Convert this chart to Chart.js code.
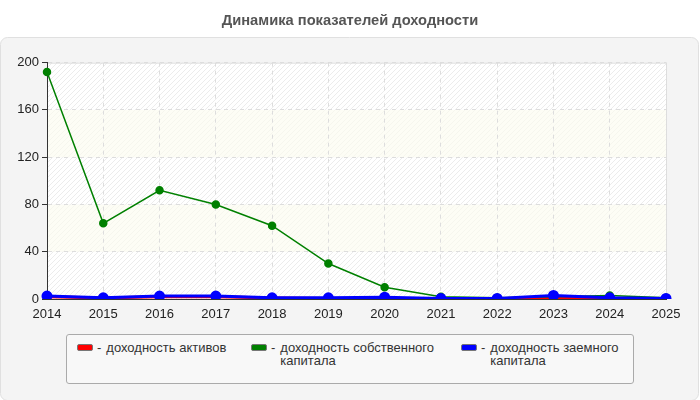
<!DOCTYPE html>
<html>
<head>
<meta charset="utf-8">
<script src="https://cdn.jsdelivr.net/npm/chart.js@4/dist/chart.umd.min.js"></script>
<style>
  html, body { margin: 0; padding: 0; background: #fff; }
  #wrap { position: relative; width: 700px; height: 400px; }
  #legend {
    position: absolute; left: 66px; top: 334px; width: 566px; height: 48px;
    background: #f8f8f8; border: 1px solid #aaa; border-radius: 3px;
    font-family: "Liberation Sans", Arial, sans-serif; font-size: 13px; color: #333;
  }
  .item { position: absolute; top: 6px; display: flex; align-items: flex-start; line-height: 13px; }
  .sw { width: 14px; height: 5px; border: 1px solid #777; border-radius: 2px; margin-top: 3px; margin-right: 4px; }
  .dash { margin-right: 5px; }
</style>
</head>
<body>
<div id="wrap">
  <canvas id="c" width="700" height="400"></canvas>
  <div id="legend"></div>
</div>
<script>
// data
const years = ["2014", "2015", "2016", "2017", "2018", "2019", "2020", "2021", "2022", "2023", "2024", "2025"];
const roaValues = [2, 0.8, 2, 2, 0.8, 0.5, 0.5, 0, 0.3, 1.5, 0.5, 0];
const roeValues = [192, 64, 92, 80, 62, 30, 10, 2, 1, 2, 3, 1];
const rodValues = [2.5, 1, 2.5, 2.5, 1, 1, 1.5, 0.5, 0.5, 3, 1, 0.5];
const yTicks = [0, 40, 80, 120, 160, 200];

const seriesNames = ["доходность активов", "доходность собственного капитала", "доходность заемного капитала"];
const seriesColors = ["#ff0000", "#008000", "#0000ff"];

const FONT = '"Liberation Sans", Arial, sans-serif';

// hatch pattern for the striped bands
function makeHatch(bg, line) {
  const p = document.createElement("canvas");
  p.width = 5; p.height = 5;
  const g = p.getContext("2d");
  g.fillStyle = bg;
  g.fillRect(0, 0, 5, 5);
  g.strokeStyle = line;
  g.lineWidth = 1;
  g.beginPath();
  g.moveTo(-1, 6); g.lineTo(6, -1);
  g.moveTo(-1, 1); g.lineTo(1, -1);
  g.moveTo(4, 6); g.lineTo(6, 4);
  g.stroke();
  return p;
}

const backdrop = {
  id: "backdrop",
  beforeDraw(chart) {
    const { ctx, chartArea: a, scales } = chart;
    ctx.save();
    ctx.fillStyle = "#fff";
    ctx.fillRect(0, 0, chart.width, chart.height);

    // gray panel
    ctx.fillStyle = "#f4f4f4";
    ctx.strokeStyle = "#e0e0e0";
    ctx.beginPath();
    ctx.roundRect(0.5, 37.5, chart.width - 2, chart.height - 37, 7);
    ctx.fill();
    ctx.stroke();

    // alternating bands
    const hatch = ctx.createPattern(makeHatch("#ffffff", "#ececec"), "repeat");
    const hatchY = ctx.createPattern(makeHatch("#fdfdf5", "#f6f6ee"), "repeat");
    for (let i = 0; i < yTicks.length - 1; i++) {
      const y0 = scales.y.getPixelForValue(yTicks[i]);
      const y1 = scales.y.getPixelForValue(yTicks[i + 1]);
      ctx.fillStyle = i % 2 === 0 ? hatch : hatchY;
      ctx.fillRect(a.left, y1, a.right - a.left, y0 - y1);
    }
    ctx.strokeStyle = "#dddddd";
    ctx.lineWidth = 1;
    ctx.strokeRect(a.left + 0.5, a.top + 0.5, a.right - a.left, a.bottom - a.top);
    ctx.restore();
  }
};

const ctx = document.getElementById("c").getContext("2d");
new Chart(ctx, {
  type: "line",
  data: {
    labels: years,
    datasets: [
      {
        label: seriesNames[0], data: roaValues, order: 2,
        borderColor: seriesColors[0], backgroundColor: seriesColors[0],
        borderWidth: 3, pointRadius: 3, tension: 0
      },
      {
        label: seriesNames[1], data: roeValues, order: 1,
        borderColor: seriesColors[1], backgroundColor: seriesColors[1],
        borderWidth: 1.5, pointRadius: 3.5, tension: 0
      },
      {
        label: seriesNames[2], data: rodValues, order: 0,
        borderColor: seriesColors[2], backgroundColor: seriesColors[2],
        borderWidth: 3, pointRadius: 4, tension: 0
      }
    ]
  },
  options: {
    responsive: false,
    animation: false,
    // equal side padding keeps the title centred on the canvas
    layout: { padding: { left: 8, right: 8, top: 0, bottom: 0 } },
    plugins: {
      legend: { display: false },
      tooltip: { enabled: false },
      title: {
        display: true,
        text: "Динамика показателей доходности",
        color: "#555",
        font: { family: FONT, size: 14.7, weight: "bold" },
        padding: { top: 12, bottom: 33 }
      }
    },
    scales: {
      x: {
        afterFit(s) { s.height = 101; },
        grid: { color: "#dddddd", drawTicks: false, tickLength: 0 },
        border: { color: "#333", width: 1, dash: [4, 4] },
        ticks: { color: "#222", font: { family: FONT, size: 13 }, padding: 8, maxRotation: 0, autoSkip: false }
      },
      y: {
        min: 0, max: 200,
        afterFit(s) { s.width = 39; },
        afterBuildTicks(s) { s.ticks = yTicks.map(v => ({ value: v })); },
        grid: { color: "#dddddd", tickColor: "#333", tickLength: 5 },
        border: { color: "#333", width: 1, dash: [4, 4] },
        ticks: { color: "#222", font: { family: FONT, size: 13 }, padding: 3 }
      },
      // empty right axis only reserves the gap on the right side
      spacer: {
        position: "right", min: 0, max: 1,
        afterFit(s) { s.width = 26; },
        grid: { display: false },
        border: { display: false },
        ticks: { display: false }
      }
    }
  },
  plugins: [backdrop]
});

// html legend built from the series names
const legend = document.getElementById("legend");
const itemX = [10, 184, 394];
const textW = [150, 165, 140];
seriesNames.forEach((name, i) => {
  const it = document.createElement("div");
  it.className = "item";
  it.style.left = itemX[i] + "px";
  it.innerHTML = '<div class="sw" style="background:' + seriesColors[i] + '"></div>' +
    '<span class="dash">-</span><span style="width:' + textW[i] + 'px">' + name + '</span>';
  legend.appendChild(it);
});
</script>
</body>
</html>
